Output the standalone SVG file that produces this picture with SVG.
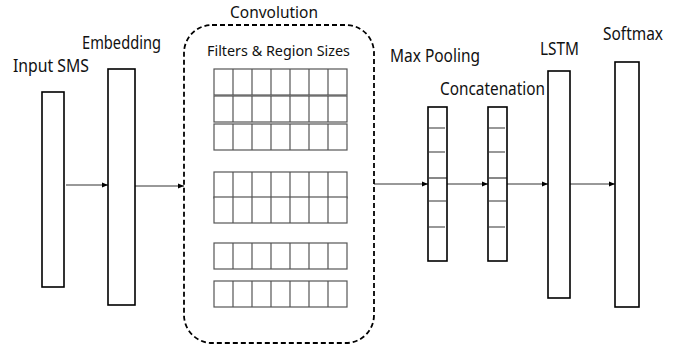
<svg xmlns="http://www.w3.org/2000/svg" width="685" height="349" viewBox="0 0 685 349">
<style>
.lbl{font-family:"Noto Sans","Liberation Sans",sans-serif;font-size:17.5px;fill:#111}
.sm{font-family:"Noto Sans","Liberation Sans",sans-serif;font-size:13.5px;fill:#111}
.box{fill:#fff;stroke:#000;stroke-width:1.6}
.cell{fill:#fff;stroke:#555;stroke-width:1.2}
.g{stroke:#777;stroke-width:1.4}
.k{stroke:#111;stroke-width:1}
.arr{stroke:#333;stroke-width:1;fill:none;marker-end:url(#ah)}
</style>
<defs>
<marker id="ah" viewBox="0 0 10 10" refX="10" refY="5" markerWidth="6" markerHeight="6" orient="auto" markerUnits="userSpaceOnUse">
<path d="M0,1 L10,5 L0,9 z" fill="#000"/>
</marker>
<g id="row">
<rect class="cell" x="0" y="0" width="133" height="26"/>
<path class="cell" d="M19,0V26M38,0V26M57,0V26M76,0V26M95,0V26M114,0V26"/>
</g>
</defs>
<g id="connectors">
<line class="arr" x1="66" y1="185" x2="108" y2="185"/>
<line class="arr" x1="135" y1="186" x2="184" y2="186"/>
<line class="arr" x1="374" y1="184" x2="428" y2="184"/>
<line class="arr" x1="432" y1="184" x2="488" y2="184"/>
<line class="arr" x1="507" y1="184" x2="548" y2="184"/>
<line class="arr" x1="570" y1="184" x2="615" y2="184"/>
</g>
<g id="input">
<rect class="box" x="42" y="92" width="22" height="195"/>
<text class="lbl" x="13" y="72" textLength="76" lengthAdjust="spacingAndGlyphs">Input SMS</text>
</g>
<g id="embedding">
<rect class="box" x="108" y="69" width="27" height="236"/>
<text class="lbl" x="82" y="49" textLength="79" lengthAdjust="spacingAndGlyphs">Embedding</text>
</g>
<g id="convolution">
<rect x="184" y="25" width="190" height="318" rx="28" ry="28" fill="none" stroke="#000" stroke-width="1.8" stroke-dasharray="5,3"/>
<text class="lbl" x="230" y="17.5" style="font-size:16px" textLength="88" lengthAdjust="spacingAndGlyphs">Convolution</text>
<text class="sm" x="207" y="56" textLength="143" lengthAdjust="spacingAndGlyphs">Filters &amp; Region Sizes</text>
<g transform="translate(214,69)"><use href="#row" y="0"/><use href="#row" y="27"/><use href="#row" y="55"/></g>
<g transform="translate(214,172)"><use href="#row" y="0"/><use href="#row" y="25"/></g>
<use href="#row" x="214" y="243"/>
<use href="#row" x="214" y="281"/>
</g>
<g id="maxpool">
<rect class="box" x="428" y="107" width="19" height="154"/>
<path class="g" d="M429,128H445M429,152H445M429,201H446M429,227H445"/>
<path class="k" d="M429,178H447"/>
<text class="lbl" x="390" y="62" textLength="90" lengthAdjust="spacingAndGlyphs">Max Pooling</text>
</g>
<g id="concat">
<rect class="box" x="488" y="107" width="19" height="154"/>
<path class="g" d="M489,128H505M489,152H505M489,201H506M489,227H505"/>
<path class="k" d="M489,178H507"/>
<text class="lbl" x="440" y="95" textLength="105" lengthAdjust="spacingAndGlyphs">Concatenation</text>
</g>
<g id="lstm">
<rect class="box" x="548" y="71" width="22" height="227"/>
<text class="lbl" x="540" y="55" textLength="39" lengthAdjust="spacingAndGlyphs">LSTM</text>
</g>
<g id="softmax">
<rect class="box" x="615" y="62" width="24" height="245"/>
<text class="lbl" x="603" y="40" textLength="60" lengthAdjust="spacingAndGlyphs">Softmax</text>
</g>
</svg>
